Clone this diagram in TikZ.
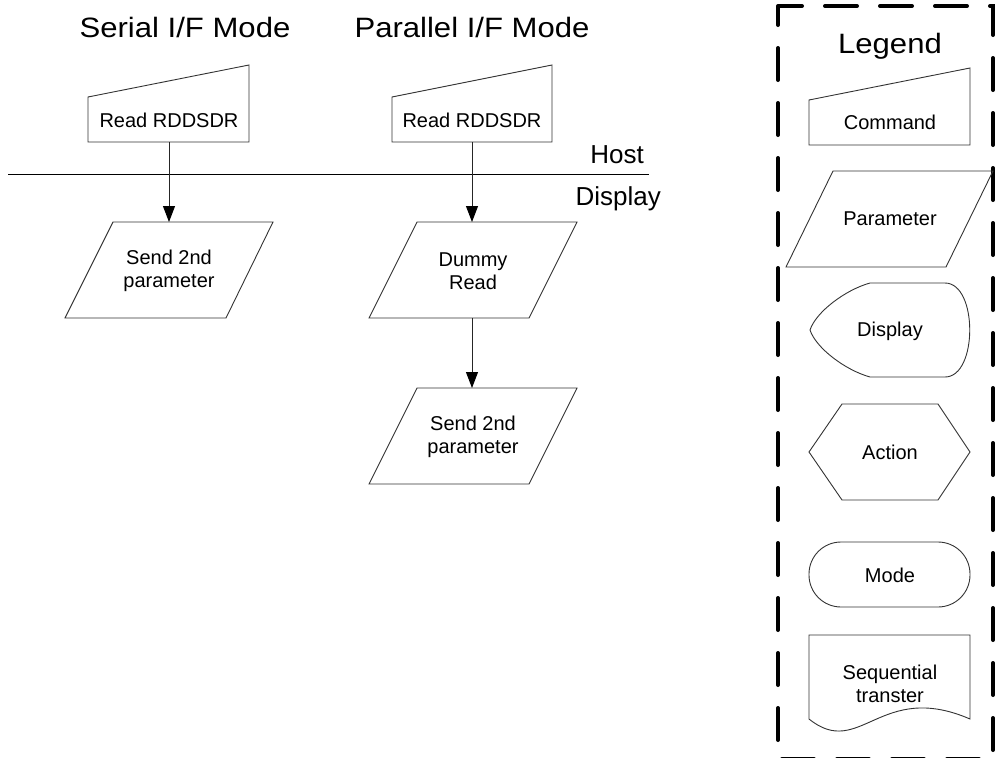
\documentclass[tikz,border=0pt]{standalone}
\usepackage{fontspec}
\setmainfont{Liberation Sans}
\usetikzlibrary{arrows.meta}
\begin{document}
\begin{tikzpicture}[x=1pt,y=-1pt,
  shp/.style={draw=black!80, line width=0.9pt},
  arr/.style={draw=black!85, line width=0.9pt, -{Triangle[length=16pt,width=12pt,color=black]}},
  lbl/.style={inner sep=0pt, align=center, font=\fontsize{20}{23.5}\selectfont},
  ttl/.style={inner sep=0pt, font=\fontsize{28}{32}\selectfont},
  side/.style={inner sep=0pt, font=\fontsize{26}{30}\selectfont},
  legbox/.style={draw=black, line width=4pt, line cap=round, dash pattern=on 32pt off 23pt, dash phase=8pt}]
\useasboundingbox (0,0) rectangle (997,758);

% titles
\node[ttl] (t1) at (185,27) {\scalebox{1.11}[1]{Serial I/F Mode}};
\node[ttl] (t2) at (472,27) {\scalebox{1.11}[1]{Parallel I/F Mode}};

% host / display separator
\coordinate (hl) at (8,174);
\coordinate (hr) at (649,174);
\draw[draw=black, line width=0.9pt] (hl) -- (hr);
\node[side, anchor=east] (host) at (644,155) {Host};
\node[side, anchor=east] (disp) at (661,199) {Display};

% serial column
\draw[shp] (88,97) -- (249,65) -- (249,142) -- (88,142) -- cycle;
\node[lbl] (c1) at (169,120) {Read RDDSDR};
\draw[shp] (113,222) -- (273,222) -- (226,318) -- (65,318) -- cycle;
\node[lbl] (p1) at (169,271) {Send 2nd\\parameter};
\coordinate (c1b) at (169,142);
\coordinate (p1t) at (169,222);
\draw[arr] (c1b) -- (p1t);

% parallel column
\draw[shp] (392,97) -- (552,65) -- (552,142) -- (392,142) -- cycle;
\node[lbl] (c2) at (472,120) {Read RDDSDR};
\draw[shp] (417,222) -- (577,222) -- (529,318) -- (369,318) -- cycle;
\node[lbl] (p2) at (473,271) {Dummy\\Read};
\draw[shp] (417,388) -- (577,388) -- (529,484) -- (369,484) -- cycle;
\node[lbl] (p3) at (473,437) {Send 2nd\\parameter};
\coordinate (c2b) at (472,142);
\coordinate (p2t) at (472,222);
\coordinate (p2b) at (472,318);
\coordinate (p3t) at (472,388);
\draw[arr] (c2b) -- (p2t);
\draw[arr] (p2b) -- (p3t);

% legend
\draw[legbox] (778,6) -- (993,6) -- (993,759) -- (778,759) -- cycle;
\node[ttl] (leg) at (890,46) {\scalebox{1.11}[1]{Legend}};

\draw[shp] (809,100) -- (970,68) -- (970,145) -- (809,145) -- cycle;
\node[lbl] (lcmd) at (890,122) {Command};

\draw[shp] (833,171) -- (993,171) -- (946,267) -- (786,267) -- cycle;
\node[lbl] (lpar) at (890,219) {Parameter};

\draw[shp] (870,283) .. controls (845,290) and (816,312) .. (810,330)
  .. controls (816,348) and (845,370) .. (870,377) -- (945,377)
  .. controls (978,377) and (978,283) .. (945,283) -- cycle;
\node[lbl] (ldis) at (890,331) {Display};

\draw[shp] (842,404) -- (938,404) -- (970,452) -- (938,500) -- (842,500) -- (809,452) -- cycle;
\node[lbl] (lact) at (890,452) {Action};

\draw[shp, rounded corners=32pt] (809,542) rectangle (970,607);
\node[lbl] (lmode) at (890,575) {Mode};

\draw[shp] (809,635) -- (970,635) -- (970,719)
  .. controls (880,680) and (860,760) .. (809,719) -- cycle;
\node[lbl] (lseq) at (890,684) {Sequential\\transter};
\end{tikzpicture}
\end{document}
